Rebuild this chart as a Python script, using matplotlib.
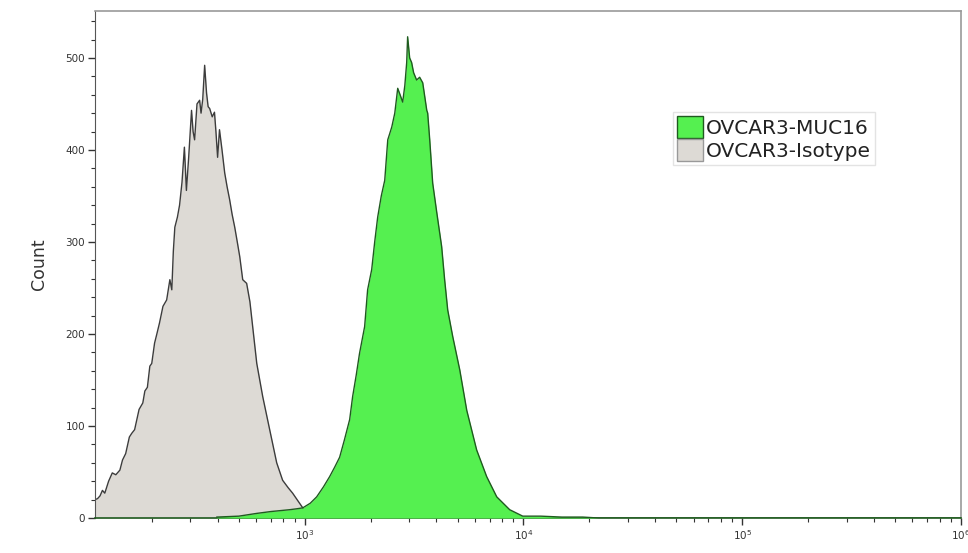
import matplotlib as mpl

mpl.use("Agg")

import matplotlib.pyplot as plt
from matplotlib.patches import Patch
from matplotlib.ticker import LogLocator, MultipleLocator, NullFormatter

# fluorescence intensity (bin centre) and count
ISO_X = [110, 113, 116, 119, 122, 127, 132, 137, 143, 147, 152, 158, 162, 167, 175, 182,
         186, 191, 196, 200, 206, 211, 217, 225, 234, 242, 247, 251, 255, 262, 268, 275,
         282, 288, 295, 304, 309, 314, 322, 331, 336, 342, 349, 356, 362, 368, 378, 387,
         393, 400, 408, 419, 431, 442, 454, 466, 479, 492, 505, 521, 543, 562, 604, 643,
         692, 745, 793, 840, 881, 948, 1021, 1135, 1300, 1600]
ISO_Y = [20, 21, 24, 30, 27, 40, 49, 47, 52, 63, 70, 88, 92, 96, 118, 125,
         138, 142, 165, 168, 190, 200, 212, 230, 237, 259, 248, 290, 316, 327, 340, 365,
         403, 356, 392, 443, 420, 411, 450, 454, 440, 455, 492, 462, 447, 445, 436, 441,
         420, 392, 422, 400, 375, 360, 346, 330, 316, 300, 284, 259, 255, 235, 168, 132,
         96, 60, 41, 33, 27, 16, 5, 2, 1, 0]

MUC_X = [397, 500, 604, 700, 853, 920, 980, 1060, 1135, 1220, 1301, 1370, 1445, 1520,
         1606, 1657, 1720, 1782, 1880, 1940, 2025, 2090, 2157, 2240, 2323, 2398, 2450,
         2502, 2582, 2636, 2663, 2730, 2806, 2870, 2927, 2956, 3020, 3083, 3148, 3249,
         3355, 3465, 3616, 3651, 3730, 3848, 4017, 4229, 4364, 4508, 4754, 5117, 5508,
         6112, 6792, 7551, 8655, 9929, 12000, 15000, 18660, 22000, 1000000]
MUC_Y = [1, 2, 5, 7, 9, 10, 11, 16, 23, 34, 45, 55, 66, 85,
         107, 132, 155, 179, 208, 248, 270, 300, 327, 350, 367, 411, 418,
         425, 440, 458, 467, 460, 452, 470, 495, 523, 500, 495, 484, 476,
         479, 473, 443, 440, 411, 364, 332, 295, 259, 226, 197, 161, 117,
         74, 45, 23, 9, 2, 2, 1, 1, 0, 0]

LABELS = ["OVCAR3-MUC16", "OVCAR3-Isotype"]

PALETTE = {
    "green": "#55f050",
    "green_edge": "#1f5a1f",
    "gray": "#dddad5",
    "gray_edge": "#3c3c3c",
    "frame": "#9a9a9a",
    "text": "#333333",
}

plt.rcParams["font.family"] = ["DejaVu Sans"]

fig = plt.figure(figsize=(9.68, 5.53), dpi=100)
ax = fig.add_axes([0.0981, 0.0633, 0.8946, 0.9168])

ax.fill_between(ISO_X, ISO_Y, color=PALETTE["gray"], lw=0, zorder=1)
ax.plot(ISO_X, ISO_Y, color=PALETTE["gray_edge"], lw=1.0, zorder=2)
ax.fill_between(MUC_X, MUC_Y, color=PALETTE["green"], lw=0, zorder=3)
ax.plot(MUC_X, MUC_Y, color=PALETTE["green_edge"], lw=1.0, zorder=4)

ax.set_xscale("log")
ax.set_xlim(110, 1e6)
ax.set_ylim(0, 551)
ax.xaxis.set_major_locator(LogLocator(base=10, numticks=10))
ax.xaxis.set_minor_locator(LogLocator(base=10, subs=range(2, 10), numticks=50))
ax.xaxis.set_minor_formatter(NullFormatter())
ax.yaxis.set_major_locator(MultipleLocator(100))
ax.yaxis.set_minor_locator(MultipleLocator(20))

ax.tick_params(axis="both", which="major", length=5, width=1.0, color=PALETTE["text"],
               labelsize=7.5, labelcolor=PALETTE["text"], pad=2)
ax.tick_params(axis="both", which="minor", length=3, width=0.8, color=PALETTE["text"])

for side in ("top", "right"):
    ax.spines[side].set_color(PALETTE["frame"])
    ax.spines[side].set_linewidth(1.2)
ax.spines["left"].set_color("#555555")
ax.spines["bottom"].set_color(PALETTE["green_edge"])
ax.spines["bottom"].set_linewidth(1.2)

ax.set_ylabel("Count", fontsize=12.5, color=PALETTE["text"], labelpad=13)

handles = [
    Patch(facecolor=PALETTE["green"], edgecolor=PALETTE["green_edge"], lw=1.0),
    Patch(facecolor=PALETTE["gray"], edgecolor="#999999", lw=1.0),
]
leg = ax.legend(handles, LABELS, loc="upper left", bbox_to_anchor=(0.667, 0.801),
                borderaxespad=0, fontsize=14.5, handlelength=1.3, handleheight=1.3,
                handletextpad=0.15, labelspacing=0.05, borderpad=0.2,
                frameon=True, fancybox=False, edgecolor="#dddddd")
for t in leg.get_texts():
    t.set_color("#222222")

fig.savefig("out.png", dpi=100)
